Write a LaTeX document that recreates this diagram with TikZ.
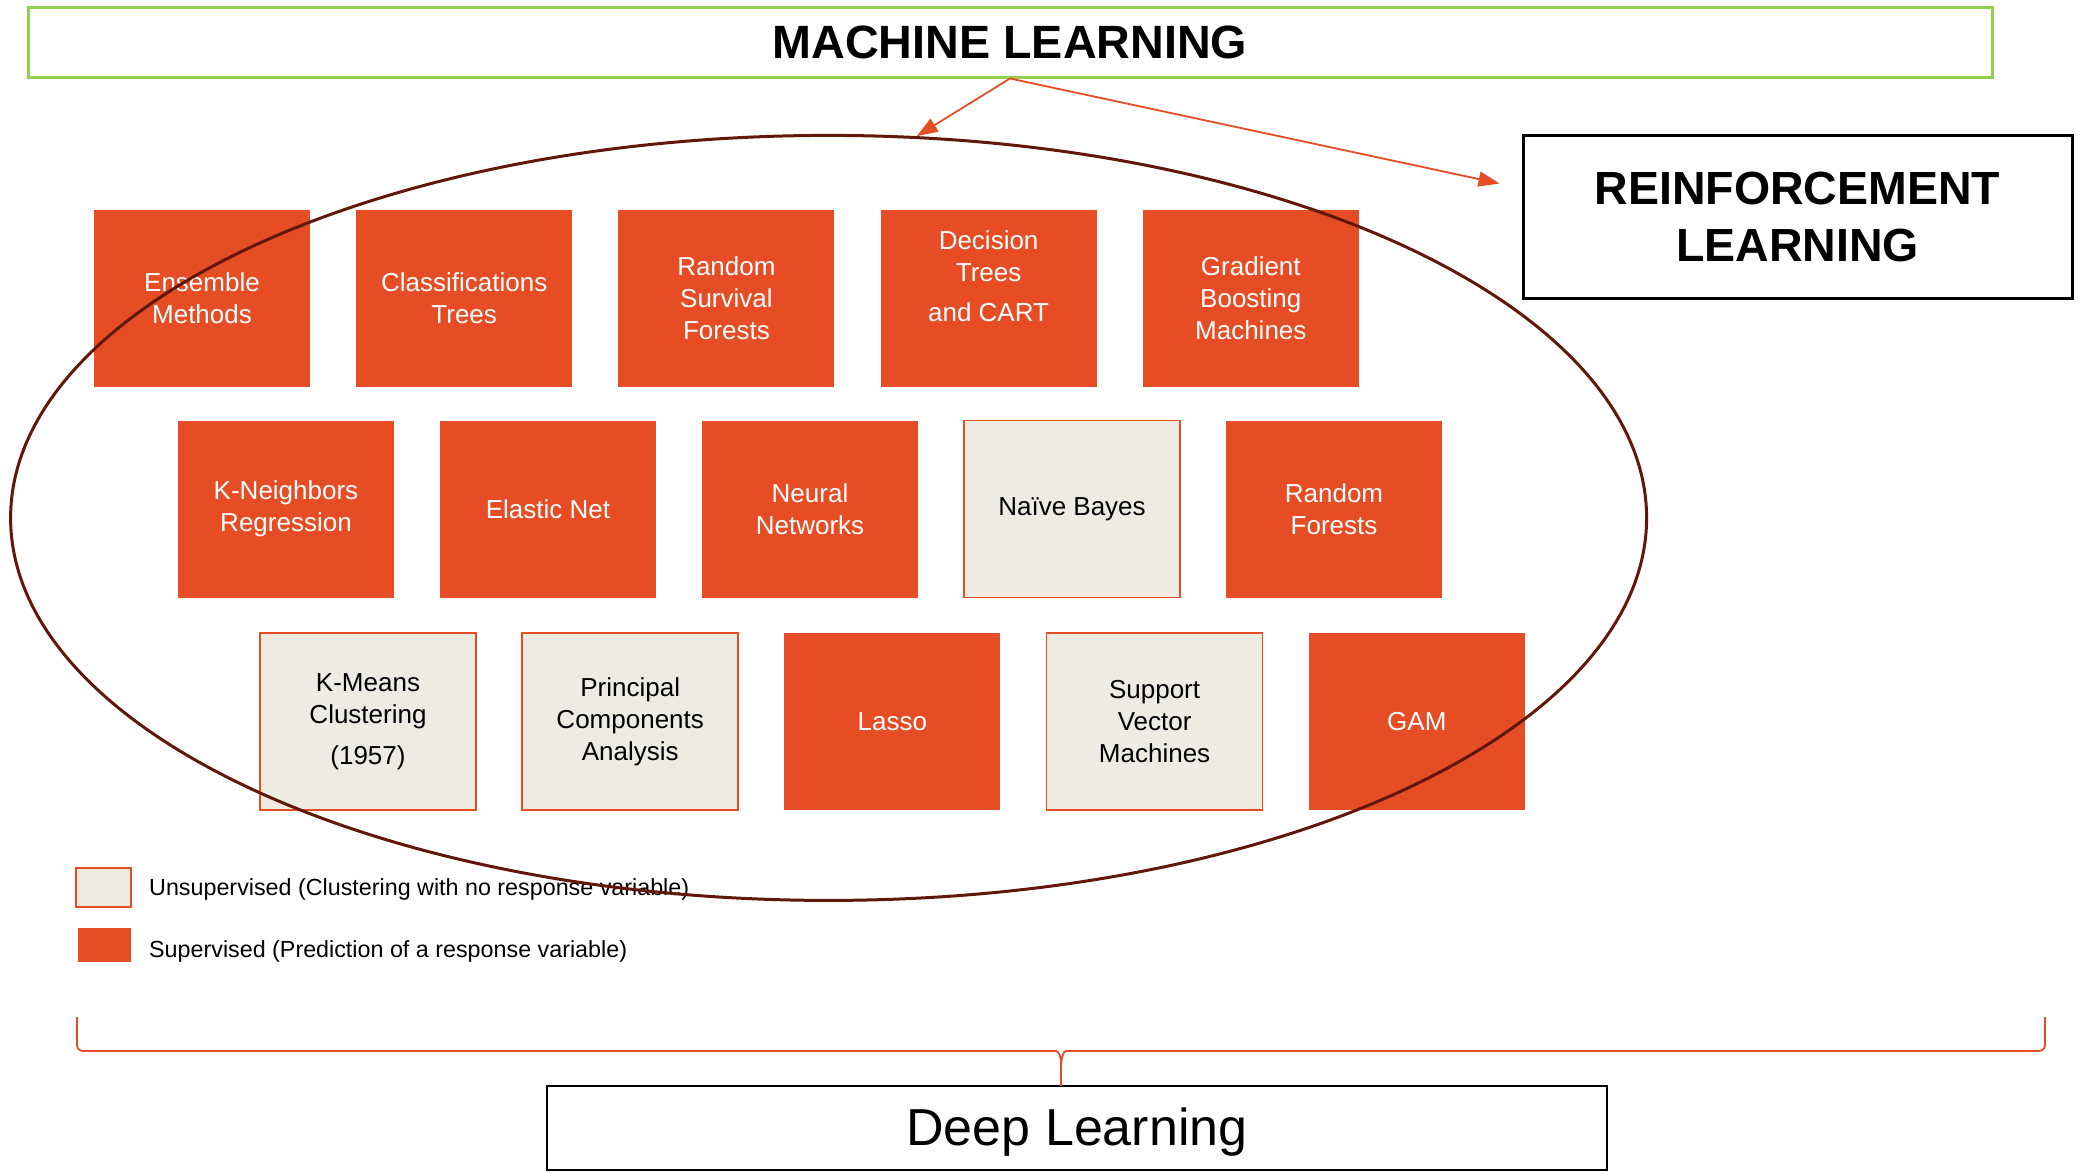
\documentclass[tikz,border=0pt]{standalone}
\usepackage{fontspec}
\setmainfont{Liberation Sans}
\usetikzlibrary{shapes.geometric,arrows.meta}
\definecolor{mlorange}{RGB}{230,77,36}
\definecolor{mlbeige}{RGB}{238,236,224}
\definecolor{mlgreen}{RGB}{146,208,80}
\definecolor{mlbrown}{RGB}{98,24,8}
\tikzset{
  box/.style={minimum width=216pt,minimum height=177pt,inner sep=0pt,align=center,font=\fontsize{26}{32}\selectfont},
  sup/.style={box,fill=mlorange,text=white},
  unsup/.style={box,fill=mlbeige,draw=mlorange,line width=1.5pt},
  mlarrow/.style={draw=mlorange,line width=1.8pt,-{Triangle[length=21pt,width=15pt]}},
  title/.style={draw,line width=3pt,inner sep=0pt,align=center},
  legendtext/.style={anchor=base west,inner sep=0pt,font=\fontsize{23.3}{28}\selectfont}
}
\begin{document}
\begin{tikzpicture}[x=1pt,y=-1pt]
  \useasboundingbox (0,0) rectangle (2082,1171);
  \node[title,draw=mlgreen,minimum width=1964pt,minimum height=70pt,font=\fontsize{46.7}{56}\selectfont\bfseries] (ml) at (1010,42) {MACHINE LEARNING};
  \node[title,minimum width=549pt,minimum height=163pt,font=\fontsize{46.5}{57}\selectfont\bfseries] (rl) at (1797.5,216.5) {REINFORCEMENT\\LEARNING};
  \node[title,line width=2.5pt,minimum width=1060pt,minimum height=84pt,text depth=3pt,font=\fontsize{52}{62}\selectfont] (dl) at (1077,1128) {Deep Learning};

  % three rows of methods
  \foreach \nm/\txt/\kind [count=\i from 0] in {ens/{Ensemble\\Methods}/sup, cls/{Classifications\\Trees}/sup, rsf/{Random\\Survival\\Forests}/sup, dt/{}/sup, gbm/{Gradient\\Boosting\\Machines}/sup}
    \node[\kind] (\nm) at ({202+262.2*\i},298.5) {\txt};
  \node[text=white,align=center,font=\fontsize{26}{32}\selectfont,yshift=22pt] (dttext) at (dt) {Decision\\Trees\\[8pt]and CART};
  \foreach \nm/\txt/\kind [count=\i from 0] in {knn/{K-Neighbors\\Regression}/sup, enet/{Elastic Net}/sup, nn/{Neural\\Networks}/sup, nb/{Naïve Bayes}/unsup, rf/{Random\\Forests}/sup}
    \node[\kind] (\nm) at ({286+262*\i},509) {\txt};
  \foreach \nm/\txt/\kind [count=\i from 0] in {km/{K-Means\\Clustering\\[9pt](1957)}/unsup, pca/{Principal\\Components\\Analysis}/unsup, lasso/{Lasso}/sup, svm/{Support\\Vector\\Machines}/unsup, gam/{GAM}/sup}
    \node[\kind] (\nm) at ({368+262.2*\i},721.5) {\txt};

  % legend
  \node[unsup,minimum width=55pt,minimum height=39pt] (lgu) at (103.5,887.5) {};
  \node[sup,minimum width=53pt,minimum height=34pt] (lgs) at (104.5,945) {};
  \node[legendtext] (lgutext) at (149,895) {Unsupervised (Clustering with no response variable)};
  \node[legendtext] (lgstext) at (149,957) {Supervised (Prediction of a response variable)};

  \node[ellipse,draw=mlbrown,line width=3pt,minimum width=1636pt,minimum height=765pt,inner sep=0pt] (ell) at (828.6,517.9) {};

  \draw[mlarrow] (ml.south) -- (ell.77);
  \draw[mlarrow] (ml.south) -- ([xshift=-22pt,yshift=33pt]rl.west);

  % brace down to deep learning
  \coordinate (bracetip) at (1061,1086);
  \draw[draw=mlorange,line width=1.8pt,rounded corners=6pt] (77,1017) |- (1050,1051) .. controls (1058,1051) and (1061,1056) .. (1061,1068) -- (bracetip);
  \draw[draw=mlorange,line width=1.8pt,rounded corners=6pt] (2045,1017) |- (1072,1051) .. controls (1064,1051) and (1061,1056) .. (1061,1068);
\end{tikzpicture}
\end{document}
